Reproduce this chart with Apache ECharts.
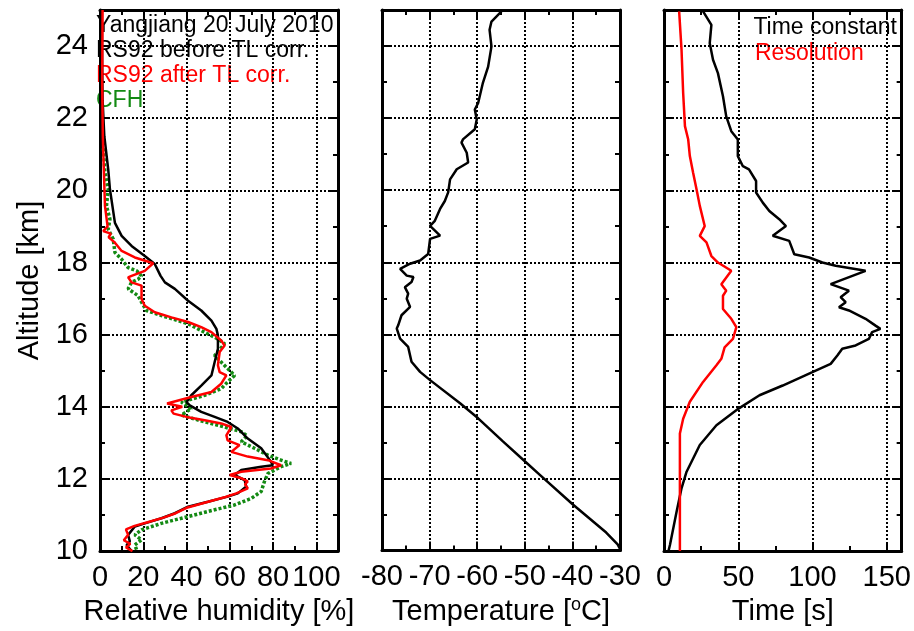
<!DOCTYPE html>
<html>
<head>
<meta charset="utf-8">
<script src="https://cdn.jsdelivr.net/npm/echarts@6/dist/echarts.min.js"></script>
<style>
  html, body { margin: 0; padding: 0; background: #fff; }
  #chart { width: 914px; height: 631px; }
</style>
</head>
<body>
<div id="chart"></div>
<script>
// ---- Relative humidity profiles (altitude km / RH %) ----
const beforeAlt = [10.0, 10.04, 10.17, 10.27, 10.45, 10.68, 10.77, 10.91, 11.05, 11.23, 11.37, 11.51, 11.6, 11.79, 11.97, 12.11, 12.25, 12.34, 12.38, 12.48, 12.85, 13.12, 13.4, 13.58, 13.72, 13.86, 14.04, 14.13, 14.32, 14.59, 14.87, 15.24, 15.61, 15.98, 16.16, 16.39, 16.67, 16.94, 17.27, 17.45, 17.63, 17.96, 18.18, 18.46, 18.74, 19.1, 20.03, 20.58, 21.5, 22.5, 23.5, 25.0];
const beforeRH  = [14.6, 14.6, 12.3, 13.8, 13.0, 16.1, 20.7, 28.4, 34.6, 40.7, 49.9, 59.0, 63.7, 67.6, 66.8, 62.2, 65.3, 74.5, 79.9, 79.0, 74.5, 68.3, 63.7, 59.0, 53.0, 46.8, 41.5, 40.0, 42.2, 46.8, 51.5, 53.0, 54.5, 54.5, 53.8, 51.5, 46.8, 40.7, 34.6, 30.0, 28.0, 25.3, 20.7, 14.6, 10.0, 6.9, 4.6, 3.8, 2.0, 1.2, 1.0, 0.8];

const afterAlt = [10.0, 10.1, 10.2, 10.3, 10.45, 10.6, 10.7, 10.8, 10.92, 11.05, 11.2, 11.25, 11.37, 11.5, 11.6, 11.74, 11.85, 11.93, 12.02, 12.11, 12.2, 12.29, 12.38, 12.52, 12.62, 12.75, 12.94, 13.07, 13.21, 13.44, 13.54, 13.63, 13.72, 13.81, 13.9, 14.0, 14.09, 14.27, 14.41, 14.64, 14.87, 14.96, 15.15, 15.52, 15.7, 15.84, 16.07, 16.21, 16.35, 16.48, 16.62, 16.8, 16.99, 17.36, 17.45, 17.59, 17.63, 17.77, 17.98, 18.14, 18.32, 18.55, 18.7, 18.8, 18.87, 19.0, 19.57, 20.5, 21.5, 23.0, 25.0];
const afterRH  = [15.0, 12.0, 14.0, 11.0, 13.0, 12.0, 16.0, 22.0, 29.0, 35.0, 40.0, 43.0, 50.0, 58.0, 63.0, 68.3, 67.0, 68.3, 65.3, 60.0, 65.3, 79.0, 83.7, 77.6, 68.3, 60.7, 64.5, 59.0, 58.4, 60.7, 56.0, 48.4, 40.0, 34.0, 33.0, 38.0, 31.0, 42.2, 51.5, 56.0, 58.4, 55.3, 54.5, 55.3, 57.6, 56.0, 51.5, 46.8, 40.7, 33.0, 25.3, 20.7, 19.2, 19.2, 14.6, 13.0, 14.6, 20.7, 24.6, 16.1, 10.0, 6.9, 4.0, 5.0, 1.5, 3.5, 2.3, 1.8, 1.3, 1.0, 1.2];

const cfhAlt = [10.04, 10.17, 10.31, 10.45, 10.59, 10.77, 10.91, 11.1, 11.28, 11.46, 11.65, 11.93, 12.15, 12.34, 12.43, 12.52, 12.66, 12.85, 13.03, 13.2, 13.31, 13.49, 13.58, 13.77, 13.95, 14.13, 14.32, 14.5, 14.69, 14.87, 15.06, 15.24, 15.42, 15.75, 15.88, 16.02, 16.16, 16.3, 16.39, 16.53, 16.67, 16.9, 17.08, 17.27, 17.45, 17.54, 17.63, 17.77, 17.86, 18.09, 18.28, 18.65, 18.92, 19.2, 19.57, 20.03, 20.49, 21.22];
const cfhRH  = [16.9, 16.1, 19.2, 16.1, 19.2, 28.4, 37.6, 49.9, 62.2, 69.9, 74.5, 76.0, 77.6, 83.7, 88.3, 83.7, 77.6, 71.4, 65.3, 68.0, 65.3, 54.5, 48.4, 37.6, 42.2, 37.6, 48.4, 56.0, 59.0, 62.2, 59.0, 56.0, 53.0, 57.6, 54.5, 49.9, 45.3, 40.7, 36.0, 28.4, 21.5, 19.2, 17.6, 13.0, 14.6, 17.7, 19.2, 16.9, 13.0, 10.0, 6.9, 6.1, 3.8, 4.6, 3.0, 3.8, 2.3, 1.5];

// ---- Temperature profile (altitude km / degC) ----
const tempAlt = [10.05, 10.17, 10.5, 11.28, 12.11, 12.48, 13.03, 13.67, 14.09, 14.73, 14.96, 15.24, 15.65, 15.88, 16.16, 16.25, 16.53, 16.76, 16.99, 17.13, 17.31, 17.45, 17.59, 17.63, 17.82, 17.96, 18.05, 18.23, 18.65, 18.74, 19.01, 19.15, 19.48, 19.7, 19.94, 20.3, 20.58, 20.77, 21.04, 21.32, 21.41, 21.69, 21.96, 22.24, 22.42, 22.98, 23.43, 23.99, 24.45, 24.68, 24.96];
const tempVal = [-30.0, -30.5, -32.9, -39.9, -46.9, -50.0, -54.6, -59.8, -63.6, -69.9, -72.0, -73.8, -74.5, -76.2, -76.9, -76.6, -75.9, -74.1, -74.8, -74.5, -75.2, -73.8, -73.4, -74.8, -76.2, -74.1, -72.0, -70.3, -69.9, -67.8, -69.9, -68.9, -67.8, -66.8, -66.1, -65.7, -64.3, -61.9, -62.2, -63.3, -63.0, -60.5, -60.1, -60.5, -59.8, -58.8, -57.7, -57.0, -57.4, -57.0, -54.9];

// ---- Sensor time constant and vertical resolution (altitude km / s) ----
const tauAlt = [10.0, 10.17, 11.1, 11.74, 12.2, 12.94, 13.49, 13.95, 14.32, 14.59, 14.96, 15.19, 15.42, 15.61, 15.7, 15.88, 16.07, 16.16, 16.25, 16.44, 16.67, 16.76, 16.9, 17.04, 17.22, 17.4, 17.77, 17.91, 18.0, 18.14, 18.23, 18.6, 18.74, 19.01, 19.2, 19.43, 19.66, 19.94, 20.26, 20.58, 20.67, 20.95, 21.41, 21.64, 22.05, 22.61, 23.25, 23.62, 24.08, 24.59, 24.96];
const tauVal = [3.0, 4.0, 8.5, 11.8, 15.2, 24.1, 35.3, 50.2, 64.3, 79.9, 99.9, 112.2, 116.7, 120.0, 129.0, 137.9, 140.1, 145.7, 142.4, 135.7, 124.5, 117.8, 122.3, 118.9, 124.5, 112.2, 135.7, 115.6, 106.6, 97.7, 87.7, 84.3, 73.2, 82.1, 77.6, 70.9, 66.5, 62.0, 62.0, 57.2, 53.1, 49.7, 49.7, 45.3, 41.9, 39.7, 36.3, 33.0, 30.8, 31.9, 26.3];

const resAlt = [10.0, 13.26, 13.67, 14.14, 14.69, 15.15, 15.33, 15.65, 15.88, 16.21, 16.44, 16.71, 17.08, 17.22, 17.4, 17.77, 18.0, 18.18, 18.56, 18.74, 19.01, 19.57, 20.03, 20.49, 20.95, 21.41, 21.78, 22.7, 23.9, 24.96];
const resVal = [10.7, 10.7, 12.9, 17.4, 26.3, 35.3, 38.6, 40.8, 46.4, 48.7, 45.3, 39.7, 39.7, 41.9, 38.6, 45.3, 36.3, 31.9, 28.6, 24.1, 27.4, 24.1, 21.9, 19.6, 17.4, 16.3, 14.1, 12.9, 11.8, 10.2];

// ---- Axis settings ----
const altRange = [10, 25], altStep = 2;
const rhRange = [0, 110], rhStep = 20;
const tRange = [-80, -30], tStep = 10;
const timeRange = [0, 160], timeStep = 50;

const FONT = "'Liberation Sans', Arial, Helvetica, sans-serif";
const pairs = (xs, ys) => xs.map((x, i) => [x, ys[i]]);

const frameLine = { show: true, onZero: false, lineStyle: { color: '#000', width: 3 } };
const tick = { show: true, inside: true, length: 9, lineStyle: { color: '#000', width: 2 } };
const minor = { show: true, splitNumber: 2, length: 5, lineStyle: { color: '#000', width: 2 } };
const dotted = { show: true, lineStyle: { color: '#000', width: 2, type: [2, 2] } };

function xAxes(grid, range, step, name, hideMax) {
  return [
    {
      type: 'value', gridIndex: grid, position: 'bottom', min: range[0], max: range[1], interval: step,
      axisLine: frameLine, axisTick: tick, minorTick: minor, splitLine: dotted,
      axisLabel: {
        color: '#000', fontSize: 29, fontFamily: FONT, margin: 12,
        formatter: v => (hideMax && v === range[1]) ? '' : String(v)
      },
      name: name, nameLocation: 'middle', nameGap: 44,
      nameTextStyle: {
        color: '#000', fontSize: 29, fontFamily: FONT,
        rich: { sup: { fontSize: 18, fontFamily: FONT, color: '#000', verticalAlign: 'top', padding: [0, 0, 12, 0] } }
      }
    },
    {
      type: 'value', gridIndex: grid, position: 'top', min: range[0], max: range[1], interval: step,
      axisLine: frameLine, axisTick: tick, minorTick: minor, splitLine: { show: false },
      axisLabel: { show: false }
    }
  ];
}

function yAxes(grid, withLabels) {
  return [
    {
      type: 'value', gridIndex: grid, position: 'left', min: altRange[0], max: altRange[1], interval: altStep,
      axisLine: frameLine, axisTick: tick, minorTick: minor, splitLine: dotted,
      axisLabel: {
        show: withLabels, color: '#000', fontSize: 29, fontFamily: FONT, margin: 12,
        formatter: v => v === altRange[1] ? '' : String(v)
      },
      name: withLabels ? 'Altitude [km]' : '', nameLocation: 'middle', nameGap: 56,
      nameTextStyle: { color: '#000', fontSize: 29, fontFamily: FONT }
    },
    {
      type: 'value', gridIndex: grid, position: 'right', min: altRange[0], max: altRange[1], interval: altStep,
      axisLine: frameLine, axisTick: tick, minorTick: minor, splitLine: { show: false },
      axisLabel: { show: false }
    }
  ];
}

function profile(xi, yi, data, color, extra) {
  return Object.assign({
    type: 'line', xAxisIndex: xi, yAxisIndex: yi, data: data,
    showSymbol: false, symbol: 'none', animation: false, silent: true,
    lineStyle: { color: color, width: 2.5 }
  }, extra || {});
}

const option = {
  backgroundColor: '#fff',
  animation: false,
  grid: [
    { left: 100, top: 10, width: 238, height: 543 },
    { left: 382, top: 10, width: 238, height: 543 },
    { left: 664, top: 10, width: 239, height: 543 }
  ],
  xAxis: [].concat(
    xAxes(0, rhRange, rhStep, 'Relative humidity [%]', true),
    xAxes(1, tRange, tStep, 'Temperature [{sup|o}C]', false),
    xAxes(2, timeRange, timeStep, 'Time [s]', true)
  ),
  yAxis: [].concat(yAxes(0, true), yAxes(1, false), yAxes(2, false)),
  series: [
    profile(0, 0, pairs(cfhRH, cfhAlt), '#138a13', { lineStyle: { color: '#138a13', width: 3.5, type: [3, 2] } }),
    profile(0, 0, pairs(beforeRH, beforeAlt), '#000'),
    profile(0, 0, pairs(afterRH, afterAlt), '#ff0000'),
    profile(2, 2, pairs(tempVal, tempAlt), '#000'),
    profile(4, 4, pairs(tauVal, tauAlt), '#000'),
    profile(4, 4, pairs(resVal, resAlt), '#ff0000')
  ],
  graphic: [
    { type: 'text', left: 96, top: 14, style: { text: 'Yangjiang 20 July 2010', fill: '#000', font: '23px ' + FONT } },
    { type: 'text', left: 96, top: 39, style: { text: 'RS92 before TL corr.', fill: '#000', font: '23px ' + FONT } },
    { type: 'text', left: 96, top: 64, style: { text: 'RS92 after TL corr.', fill: '#ff0000', font: '23px ' + FONT } },
    { type: 'text', left: 96, top: 89, style: { text: 'CFH', fill: '#138a13', font: '23px ' + FONT } },
    { type: 'text', right: 17, top: 16, style: { text: 'Time constant', fill: '#000', font: '23px ' + FONT } },
    { type: 'text', left: 755, top: 42, style: { text: 'Resolution', fill: '#ff0000', font: '23px ' + FONT } }
  ]
};

const chart = echarts.init(document.getElementById('chart'), null, { renderer: 'canvas' });
chart.setOption(option);
</script>
</body>
</html>
